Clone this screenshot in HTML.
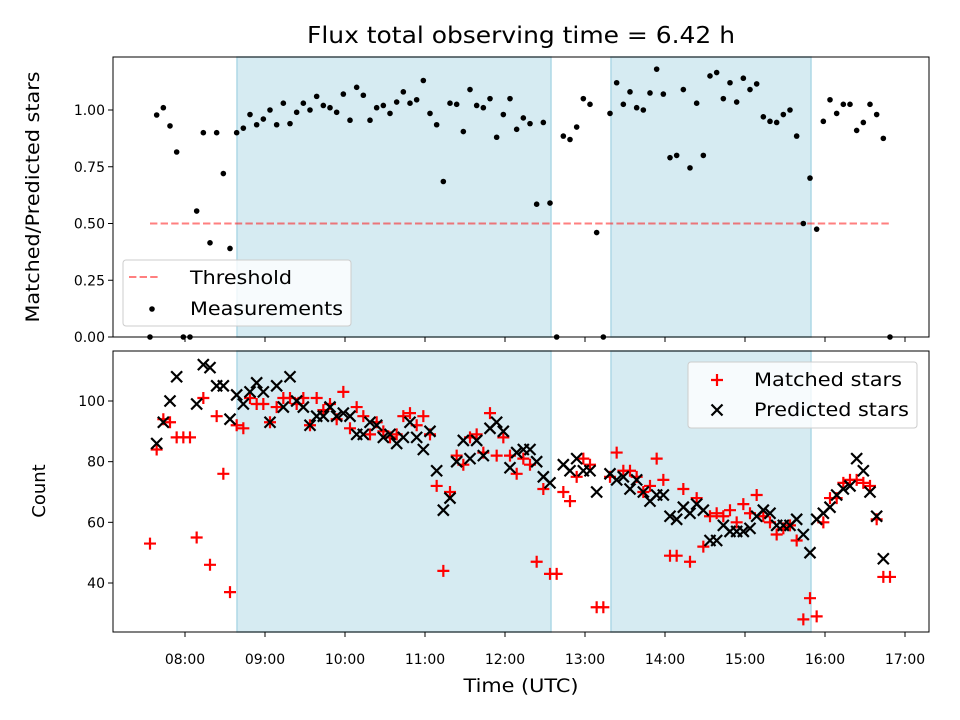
<!DOCTYPE html>
<html><head><meta charset="utf-8"><style>
body{margin:0;background:#fff}
svg{display:block;font-family:"DejaVu Sans","Liberation Sans",sans-serif}
</style></head><body>
<svg id="chart" width="960" height="720" viewBox="0 0 960 720" xmlns="http://www.w3.org/2000/svg">
<rect width="960" height="720" fill="#fff"/>
<text x="521" y="43" font-size="23" text-anchor="middle" textLength="428" lengthAdjust="spacingAndGlyphs">Flux total observing time = 6.42 h</text>
<text transform="translate(39,197) rotate(-90)" font-size="19" text-anchor="middle" textLength="251" lengthAdjust="spacingAndGlyphs">Matched/Predicted stars</text>
<text transform="translate(45,491) rotate(-90)" font-size="18" text-anchor="middle">Count</text>
<text x="521" y="692" font-size="19" text-anchor="middle" textLength="115" lengthAdjust="spacingAndGlyphs">Time (UTC)</text>
<g id="top"></g><g id="bot"></g>
</svg>
<script>
const startHour = 7.5625, stepMin = 5;
const ratio = [0,.978,1.01,.93,.815,0,0,.555,.90,.415,.90,.72,.39,.90,.92,.98,.935,.96,1.0,.935,1.03,.94,.99,1.03,1.0,1.06,1.02,1.01,.99,1.07,.955,1.10,1.065,.955,1.01,1.02,.985,1.035,1.08,1.03,1.045,1.13,.985,.935,.685,1.03,1.025,.905,1.09,1.02,1.01,1.05,.88,.98,1.05,.915,.965,.94,.585,.945,.59,0,.885,.87,.925,1.05,1.025,.46,0,.985,1.12,1.025,1.08,1.01,1.0,1.075,1.18,1.07,.79,.80,1.09,.745,1.03,.80,1.15,1.165,1.05,1.12,1.035,1.14,1.09,1.115,.97,.95,.945,.98,1.0,.885,.5,.70,.475,.95,1.045,.985,1.025,1.025,.91,.945,1.025,.98,.875,0];
const matched = [53,84,94,93,88,88,88,55,101,46,95,76,37,92,91,101,99,99,93,98,101,101,99,101,92,101,97,99,94,103,91,98,95,89,93,90,88,89,95,96,92,95,89,72,44,70,82,79,88,89,83,96,82,88,82,76,81,79,47,71,43,43,70,67,75,81,79,32,32,75,83,77,77,75,70,72,81,74,49,49,71,47,68,52,62,63,62,64,60,66,63,69,62,60,56,58,59,54,28,35,29,60,68,68,73,74,74,73,72,61,42,42];
const predicted = [null,86,93,100,108,null,null,99,112,111,105,105,94,102,99,103,106,103,93,105,98,108,100,98,92,95,95,98,95,96,95,89,89,93,92,88,89,86,88,93,88,84,90,77,64,68,80,87,81,87,82,91,93,90,78,83,84,84,80,75,73,null,79,77,81,77,77,70,null,76,74,75,71,74,70,67,69,69,62,61,65,63,66,64,54,54,59,57,57,57,58,62,64,63,59,59,59,61,56,50,61,63,65,69,71,72,81,77,70,62,48,null];
const xTickLabels = ["08:00","09:00","10:00","11:00","12:00","13:00","14:00","15:00","16:00","17:00"];
const xTickHours = [8,9,10,11,12,13,14,15,16,17];
const topTicks = [0,0.25,0.5,0.75,1.0];
const botTicks = [40,60,80,100];
const shadeSpans = [[8.65,12.575],[13.325,15.825]];
const threshold = 0.5;

const NS="http://www.w3.org/2000/svg";
const L=113,R=929;
const xs=h=>185+(h-8)*80;
const yTop=v=>337-v*227;
const yBot=v=>401-(v-100)*182/60;
function mk(p,tag,a){const e=document.createElementNS(NS,tag);for(const k in a)e.setAttribute(k,a[k]);p.appendChild(e);return e;}
const times=ratio.map((_,i)=>startHour+i*stepMin/60);

function axesFrame(g,t,b){
  shadeSpans.forEach(s=>{
    const r=mk(g,'rect',{x:xs(s[0]),y:t,width:xs(s[1])-xs(s[0]),height:b-t,fill:'#add8e6','fill-opacity':0.5,stroke:'#add8e6','stroke-width':1.5});
    
    
  });
  xTickHours.forEach(h=>{mk(g,'line',{x1:xs(h),x2:xs(h),y1:b,y2:b+5,stroke:'#000','stroke-width':1});});
}
function frame(g,t,b,name){
  const r=mk(g,'rect',{x:L,y:t,width:R-L,height:b-t,fill:'none',stroke:'#000','stroke-width':1});
  
  
}
function txt(p,x,y,s,len){const a={x:x,y:y,'font-size':19};if(len){a.textLength=len;a.lengthAdjust='spacingAndGlyphs';}const t=mk(p,'text',a);t.textContent=s;return t;}
// TOP
const gt=document.getElementById('top');
axesFrame(gt,57,337);
topTicks.forEach(v=>{
  mk(gt,'line',{x1:L-5,x2:L,y1:yTop(v),y2:yTop(v),stroke:'#000'});
  const t=mk(gt,'text',{x:L-8,y:yTop(v)+5,'font-size':14,'text-anchor':'end'});t.textContent=v.toFixed(2);
  
  
});
const th=mk(gt,'line',{x1:xs(times[0]),x2:xs(times[times.length-1]),y1:yTop(threshold),y2:yTop(threshold),stroke:'#ff0000','stroke-opacity':0.5,'stroke-width':2,'stroke-dasharray':'7.4,3.2'});


ratio.forEach((v,i)=>{
  const c=mk(gt,'circle',{cx:xs(times[i]),cy:yTop(v),r:2.8,fill:'#000'});
  
  
});
frame(gt,57,337,'top-axes');
const lg=mk(gt,'g',{});


mk(lg,'rect',{x:123,y:260,width:228,height:66,rx:3,fill:'#fff','fill-opacity':0.8,stroke:'#ccc'});
mk(lg,'line',{x1:129,x2:159,y1:277,y2:277,stroke:'#ff0000','stroke-opacity':0.5,'stroke-width':2,'stroke-dasharray':'7.4,3.2'});
txt(lg,190,284,'Threshold',102);
mk(lg,'circle',{cx:152,cy:309,r:2.8,fill:'#000'});
txt(lg,190,315,'Measurements',153);

// BOTTOM
const gb=document.getElementById('bot');
axesFrame(gb,351,632);
botTicks.forEach(v=>{
  mk(gb,'line',{x1:L-5,x2:L,y1:yBot(v),y2:yBot(v),stroke:'#000'});
  const t=mk(gb,'text',{x:L-8,y:yBot(v)+5,'font-size':14,'text-anchor':'end'});t.textContent=v;
  
  
});
xTickHours.forEach((h,i)=>{
  const t=mk(gb,'text',{x:xs(h),y:664,'font-size':14,'text-anchor':'middle'});t.textContent=xTickLabels[i];
  
  
});
function plus(g,x,y){mk(g,'path',{d:`M${x-6},${y}H${x+6}M${x},${y-6}V${y+6}`,stroke:'#ff0000','stroke-width':2.2,fill:'none'});}
function cross(g,x,y){mk(g,'path',{d:`M${x-5.5},${y-5.5}L${x+5.5},${y+5.5}M${x-5.5},${y+5.5}L${x+5.5},${y-5.5}`,stroke:'#000','stroke-width':2.2,fill:'none'});}
matched.forEach((v,i)=>{
  if(v==null)return;
  const g=mk(gb,'g',{});
  
  
  plus(g,xs(times[i]),yBot(v));
});
predicted.forEach((v,i)=>{
  if(v==null)return;
  const g=mk(gb,'g',{});
  
  
  cross(g,xs(times[i]),yBot(v));
});
frame(gb,351,632,'bottom-axes');
const lb=mk(gb,'g',{});


mk(lb,'rect',{x:688,y:362,width:229,height:66,rx:3,fill:'#fff','fill-opacity':0.8,stroke:'#ccc'});
plus(lb,717,380);
txt(lb,754,386,'Matched stars',148);
cross(lb,717,410);
txt(lb,754,416,'Predicted stars',155);
</script>
</body></html>
